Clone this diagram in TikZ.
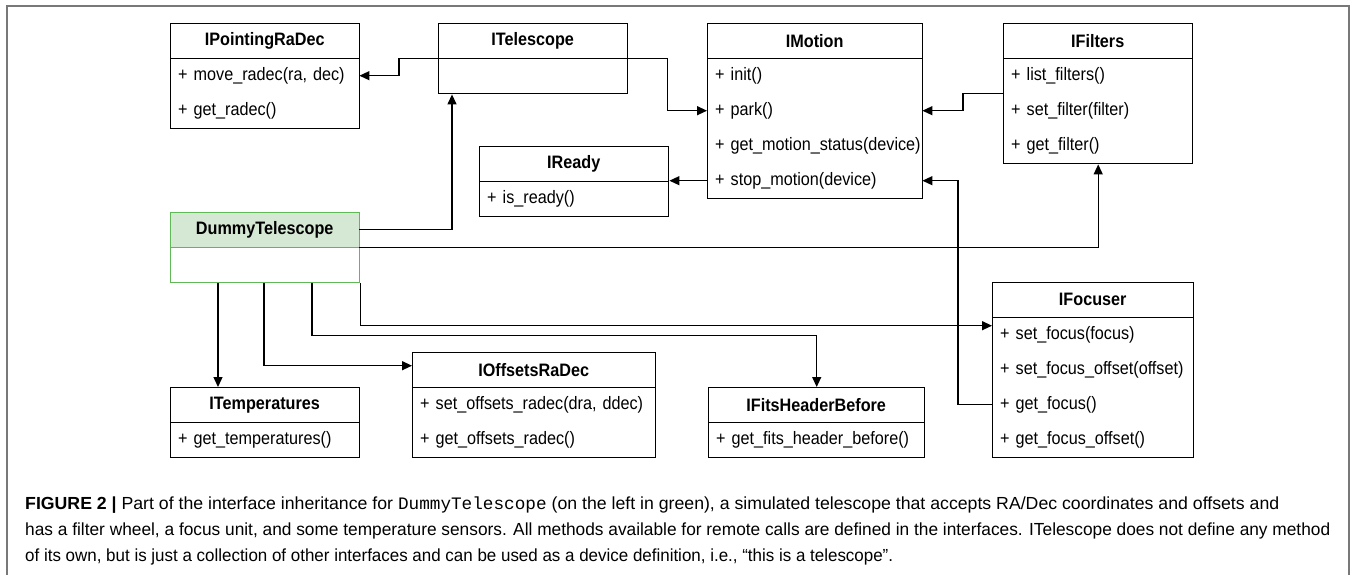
\documentclass[tikz,border=0pt]{standalone}
\usepackage{fontspec}
\setmainfont{Liberation Sans}
\newfontfamily\dfont[FakeStretch=0.9]{Liberation Sans}
\newfontfamily\capmono{Liberation Mono}
\usetikzlibrary{arrows.meta}
\definecolor{framegray}{RGB}{120,120,120}
\definecolor{dgreen}{RGB}{96,184,86}
\definecolor{dfill}{RGB}{213,232,212}
\tikzset{
  hdr/.style={inner sep=0pt, minimum height=35pt, font=\dfont\fontsize{18}{20}\selectfont\bfseries},
  rowtext/.style={inner xsep=8pt, inner ysep=0pt, minimum height=35pt, align=left, font=\dfont\fontsize{18}{20}\selectfont},
  conn/.style={line width=1.3pt, -{Triangle[length=10pt,width=9pt]}},
  capline/.style={anchor=base west, inner sep=0pt, font=\fontsize{17.5}{20}\selectfont},
}
% #1 name, #2 x, #3 y, #4 width, #5 height, #6 title, #7 methods, #8 draw colour, #9 header fill
\newcommand{\umlclass}[9]{%
  \fill[#9] (#2,#3) rectangle ++(#4,35);
  \node[draw=#8, line width=1.4pt, anchor=north west, inner sep=0pt,
        minimum width=#4pt, minimum height=#5pt] (#1) at (#2,#3) {};
  \node[hdr, anchor=north west, minimum width=#4pt] (#1-h) at (#2,#3) {#6};
  \draw[draw=#8, line width=1.4pt] (#1-h.south west) -- (#1-h.south east);
  \if\relax\detokenize{#7}\relax\else
    \pgfmathsetmacro\tw{#4-16}
    \foreach \m [count=\i] in {#7} {
      \node[rowtext, anchor=north west, text width=\tw pt] (#1-\i) at (#2,{#3+35*\i}) {\mbox{\m}};
    }
  \fi
}
\begin{document}
\begin{tikzpicture}[x=1pt,y=-1pt]
\useasboundingbox (0,0) rectangle (1356,575);
\draw[framegray, line width=1.6pt] (7,575) -- (7,6) -- (1349,6) -- (1349,575);

\umlclass{pt}{170}{23}{189}{105}{IPointingRaDec}{{+ move\_radec(ra, dec)},{+ get\_radec()}}{black}{white}
\umlclass{tel}{438}{23}{189}{70}{ITelescope}{}{black}{white}
\umlclass{mo}{707}{23}{215}{175}{IMotion}{{+ init()},{+ park()},{+ get\_motion\_status(device)},{+ stop\_motion(device)}}{black}{white}
\umlclass{fi}{1003}{23}{189}{140}{IFilters}{{+ list\_filters()},{+ set\_filter(filter)},{+ get\_filter()}}{black}{white}
\umlclass{rd}{479}{146}{189}{70}{IReady}{{+ is\_ready()}}{black}{white}
\umlclass{dm}{170}{212}{189}{70}{DummyTelescope}{}{dgreen}{dfill}
\umlclass{fo}{992}{282}{201}{175}{IFocuser}{{+ set\_focus(focus)},{+ set\_focus\_offset(offset)},{+ get\_focus()},{+ get\_focus\_offset()}}{black}{white}
\umlclass{tp}{170}{387}{189}{70}{ITemperatures}{{+ get\_temperatures()}}{black}{white}
\umlclass{of}{412}{352}{243}{105}{IOffsetsRaDec}{{+ set\_offsets\_radec(dra, ddec)},{+ get\_offsets\_radec()}}{black}{white}
\umlclass{fh}{708}{387}{216}{70}{IFitsHeaderBefore}{{+ get\_fits\_header\_before()}}{black}{white}

\draw[conn] (tel-h.south west) -- ++(-39,0) |- (pt-1.east);
\draw[conn] (tel-h.south east) -- ++(40,0) |- (mo-2.west);
\draw[conn] (dm-h.east) -| ([xshift=14pt]tel.south west);
\draw[conn] (mo-4.west) -- (mo-4.west -| rd.east);
\draw[conn] (fi-1.south west) -- ++(-40,0) |- (mo-2.east);
\draw[conn] (dm-h.south east) -| (fi.south);
\draw[conn] (fo-3.west) -- ++(-34,0) |- (mo-4.east);
\draw[conn] ([xshift=48pt]dm.south west) -- ([xshift=48pt]tp.north west);
\draw[conn] ([xshift=94pt]dm.south west) |- ([yshift=4pt]of-h.west);
\draw[conn] ([xshift=142pt]dm.south west) -- ++(0,52) -| (fh.north);
\draw[conn] (dm.south east) |- ([yshift=9pt]fo-1.west);

\node[capline] (cap1) at (25,509) {\resizebox{1254pt}{\height}{\textbf{FIGURE 2 |} Part of the interface inheritance for {\capmono DummyTelescope} (on the left in green), a simulated telescope that accepts RA/Dec coordinates and offsets and}};
\node[capline] (cap2) at (25,535) {\resizebox{1305pt}{\height}{has a filter wheel, a focus unit, and some temperature sensors. All methods available for remote calls are defined in the interfaces. ITelescope does not define any method}};
\node[capline] (cap3) at (25,561) {\resizebox{868pt}{\height}{of its own, but is just a collection of other interfaces and can be used as a device definition, i.e., “this is a telescope”.}};
\end{tikzpicture}
\end{document}
